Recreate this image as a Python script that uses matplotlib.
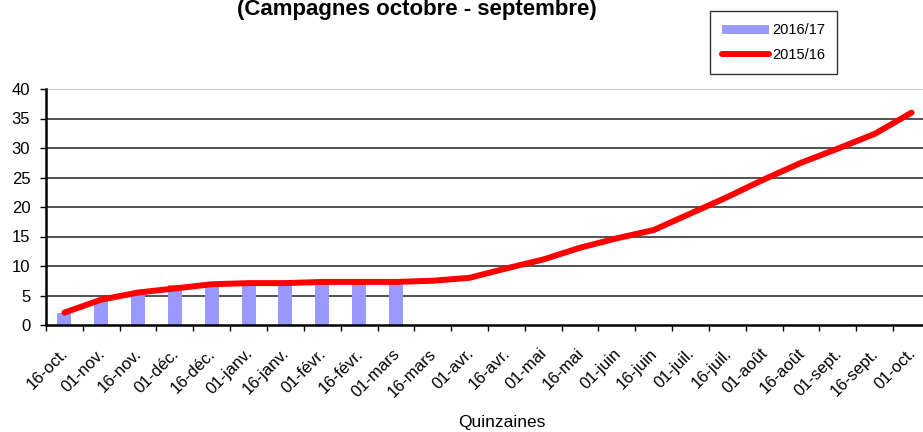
import matplotlib.pyplot as plt
from matplotlib.ticker import FixedLocator
from matplotlib.transforms import ScaledTranslation

plt.rcParams['font.family'] = ['Liberation Sans', 'DejaVu Sans']

quinzaines = ["16-oct.", "01-nov.", "16-nov.", "01-déc.", "16-déc.", "01-janv.",
              "16-janv.", "01-févr.", "16-févr.", "01-mars", "16-mars", "01-avr.",
              "16-avr.", "01-mai", "16-mai", "01-juin", "16-juin", "01-juil.",
              "16-juil.", "01-août", "16-août", "01-sept.", "16-sept.", "01-oct."]

campagne_2016_17 = [2.0, 4.2, 5.3, 6.7, 6.8, 7.0, 7.0, 7.2, 7.2, 7.2]

campagne_2015_16 = [2.1, 4.3, 5.5, 6.2, 6.9, 7.1, 7.1, 7.3, 7.3, 7.3,
                    7.5, 8.0, 9.6, 11.1, 13.1, 14.7, 16.1, 18.9, 21.7, 24.7,
                    27.5, 29.9, 32.4, 36.0]

fig = plt.figure(figsize=(9.23, 4.32), dpi=100)
ax = fig.add_axes([46/923, 1-325/432, 884/923, 236/432])

x_bars = list(range(len(campagne_2016_17)))
x_line = list(range(len(campagne_2015_16)))

bars = ax.bar(x_bars, campagne_2016_17, width=0.38, color="#9999FF", label="2016/17", zorder=2)
line, = ax.plot(x_line, campagne_2015_16, color="#FF0000", lw=4.3, solid_capstyle="round",
                label="2015/16", zorder=3)

ax.set_xlim(-0.5, len(quinzaines) - 0.5)
ax.set_ylim(0, 40)
ax.set_yticks(range(0, 41, 5))
for v in range(5, 41, 5):
    ax.axhline(v, color="#C0C0C0" if v == 40 else "#333333", lw=1.2, zorder=1)

# category ticks between labels
ax.xaxis.set_major_locator(FixedLocator([i + 0.5 for i in range(-1, len(quinzaines))]))
ax.set_xticklabels([])
ax.xaxis.set_minor_locator(FixedLocator(x_line))
ax.set_xticklabels(quinzaines, minor=True, rotation=45, ha="right", va="top",
                   rotation_mode="anchor", fontsize=12)
ax.tick_params(axis="x", which="minor", length=0, pad=15)
offset = ScaledTranslation(-4/100, 0, fig.dpi_scale_trans)
for lab in ax.get_xticklabels(minor=True):
    lab.set_transform(lab.get_transform() + offset)
ax.tick_params(axis="x", which="major", length=4.3, width=1, direction="out")
ax.tick_params(axis="y", length=4.3, width=1, direction="out", labelsize=12, pad=7)

for s in ["top", "right"]:
    ax.spines[s].set_visible(False)
ax.spines["left"].set_linewidth(1.8)
ax.spines["bottom"].set_linewidth(1.8)

fig.text(502/923, 1-422/432, "Quinzaines", ha="center", va="center", fontsize=12.5)
fig.text(417/923, 1-10/432, "(Campagnes octobre - septembre)", ha="center", va="center",
         fontsize=16, fontweight="bold")

leg = fig.legend([bars, line], ["2016/17", "2015/16"], loc="upper left",
                 bbox_to_anchor=(710/923, 1-11/432), borderaxespad=0, fontsize=10.5,
                 frameon=True, fancybox=False, edgecolor="black", labelspacing=0.7,
                 handlelength=3.2, handleheight=0.6, handletextpad=0.2, borderpad=0.85)
leg.get_frame().set_linewidth(1.0)

fig.savefig("out.png", dpi=100)
